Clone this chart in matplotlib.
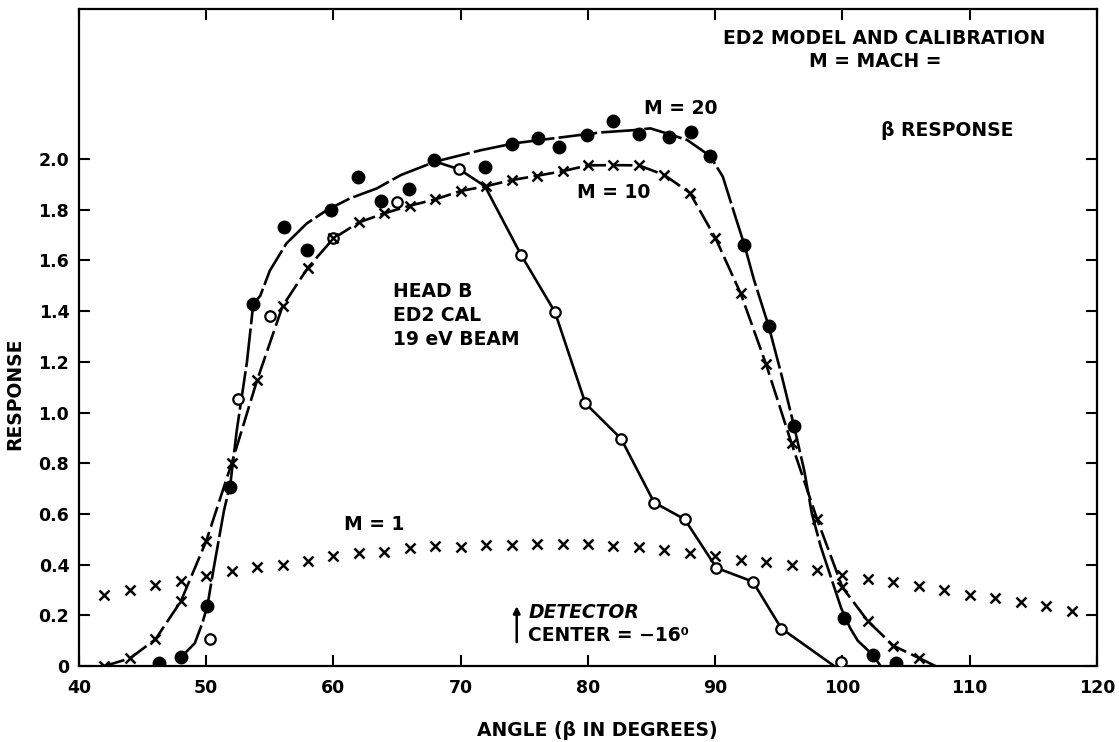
import matplotlib.pyplot as plt
import numpy as np

plt.rcParams["font.family"] = ["DejaVu Sans"]
plt.rcParams["font.weight"] = "bold"
plt.rcParams["axes.labelweight"] = "bold"
plt.rcParams["lines.scale_dashes"] = False

# M = 1 response (crosses only)
m1_angle = np.arange(42, 119, 2)
m1_resp = [0.28, 0.30, 0.32, 0.335, 0.355, 0.375, 0.39, 0.40, 0.415, 0.435,
           0.447, 0.45, 0.465, 0.473, 0.47, 0.477, 0.477, 0.48, 0.482, 0.48,
           0.474, 0.47, 0.457, 0.447, 0.434, 0.42, 0.41, 0.40, 0.38, 0.36,
           0.345, 0.333, 0.314, 0.30, 0.28, 0.268, 0.253, 0.236, 0.217]

# M = 10 response (crosses joined by a dashed line)
m10_angle = np.arange(42, 107, 2)
m10_resp = [0.0, 0.03, 0.105, 0.255, 0.493, 0.80, 1.128, 1.42, 1.572, 1.687,
            1.75, 1.786, 1.816, 1.841, 1.874, 1.893, 1.917, 1.934, 1.952, 1.975,
            1.976, 1.975, 1.937, 1.867, 1.69, 1.47, 1.19, 0.878, 0.58, 0.31,
            0.177, 0.08, 0.032]
m10_tail_angle = [106, 107.3]
m10_tail_resp = [0.032, 0.0]

# M = 20 measured points (filled dots)
m20_angle = [46.3, 48.0, 50.05, 51.9, 53.7, 56.1, 57.9, 59.8, 61.9, 63.7,
             65.9, 67.9, 71.9, 74.0, 76.1, 77.7, 79.9, 82.0, 84.0, 86.4,
             88.1, 89.6, 92.3, 94.2, 96.2, 100.1, 102.4, 104.2]
m20_resp = [0.01, 0.034, 0.237, 0.705, 1.428, 1.733, 1.641, 1.799, 1.928, 1.834,
            1.882, 1.996, 1.970, 2.059, 2.082, 2.049, 2.096, 2.15, 2.097, 2.088,
            2.108, 2.012, 1.66, 1.341, 0.945, 0.19, 0.045, 0.012]

# M = 20 faired curve
m20_fit_angle = [48.0, 49.1, 49.7, 50.1, 50.6, 51.4, 51.9, 52.4, 53.2, 53.7,
                 54.24, 55.0, 56.3, 57.9, 59.5, 61.3, 63.4, 65.3, 68.0, 71.6,
                 74.2, 77.0, 79.4, 81.0, 83.6, 84.9, 86.2, 87.8, 89.6, 90.6,
                 91.5, 92.3, 93.05, 94.2, 95.2, 96.2, 97.0, 97.6, 98.3, 99.9,
                 100.6, 101.2, 102.4, 103.0]
m20_fit_resp = [0.034, 0.09, 0.17, 0.24, 0.39, 0.615, 0.72, 0.93, 1.20, 1.43,
                1.46, 1.56, 1.667, 1.746, 1.799, 1.845, 1.884, 1.937, 1.99, 2.035,
                2.062, 2.08, 2.095, 2.105, 2.114, 2.121, 2.101, 2.075, 2.012, 1.93,
                1.786, 1.66, 1.523, 1.341, 1.15, 0.945, 0.77, 0.60, 0.47, 0.228,
                0.15, 0.10, 0.043, 0.0]

# open circles and the line drawn through the falling branch
open_angle = [50.3, 52.5, 55.0, 60.0, 65.0, 69.9, 74.75, 77.4, 79.8, 82.6,
              85.2, 87.6, 90.1, 92.95, 95.2, 99.9]
open_resp = [0.105, 1.053, 1.381, 1.687, 1.829, 1.959, 1.621, 1.397, 1.036, 0.897,
             0.645, 0.579, 0.387, 0.333, 0.148, 0.014]
open_line_angle = [68.0, 69.9, 71.9, 74.75, 77.4, 79.8, 82.6, 85.2, 87.6, 90.1,
                   92.95, 95.2, 99.35]
open_line_resp = [1.99, 1.959, 1.893, 1.621, 1.397, 1.036, 0.897, 0.645, 0.579, 0.387,
                  0.333, 0.148, 0.0]

x_ticks = [40, 50, 60, 70, 80, 90, 100, 110, 120]
y_ticks = [0, 0.2, 0.4, 0.6, 0.8, 1.0, 1.2, 1.4, 1.6, 1.8, 2.0]
y_tick_labels = ["0", "0.2", "0.4", "0.6", "0.8", "1.0", "1.2", "1.4", "1.6", "1.8", "2.0"]

fig = plt.figure(figsize=(11.19, 7.42), dpi=100)
ax = fig.add_axes([0.0706, 0.1024, 0.9097, 0.8855])

lw = 1.9
ax.plot(m20_fit_angle, m20_fit_resp, color="black", lw=lw, ls=(0, (28, 3)), zorder=2)
ax.plot(m10_angle, m10_resp, color="black", lw=lw, ls=(0, (15, 4)), zorder=2)
ax.plot(m10_tail_angle, m10_tail_resp, color="black", lw=lw, ls=(0, (15, 4)), zorder=2)
ax.plot(open_line_angle, open_line_resp, color="black", lw=lw, zorder=2)

ax.plot(m20_angle, m20_resp, "o", color="black", ms=9, zorder=4)
ax.plot(open_angle, open_resp, "o", mfc="white", mec="black", mew=1.6, ms=7.5, zorder=4)
ax.plot(m10_angle, m10_resp, "x", color="black", ms=6.5, mew=1.8, zorder=4)
ax.plot(m1_angle, m1_resp, "x", color="black", ms=6.5, mew=1.8, zorder=4)

fs = 13.5
ax.text(103.25, 2.476, "ED2 MODEL AND CALIBRATION", ha="center", va="center", fontsize=fs)
ax.text(102.6, 2.384, "M = MACH =", ha="center", va="center", fontsize=fs)
ax.text(108.26, 2.114, "β RESPONSE", ha="center", va="center", fontsize=fs)
ax.text(87.3, 2.20, "M = 20", ha="center", va="center", fontsize=fs)
ax.text(82.0, 1.867, "M = 10", ha="center", va="center", fontsize=fs)
ax.text(63.2, 0.56, "M = 1", ha="center", va="center", fontsize=fs)
ax.text(64.7, 1.476, "HEAD B", ha="left", va="center", fontsize=fs)
ax.text(64.7, 1.382, "ED2 CAL", ha="left", va="center", fontsize=fs)
ax.text(64.7, 1.29, "19 eV BEAM", ha="left", va="center", fontsize=fs)
ax.text(75.3, 0.212, "DETECTOR", ha="left", va="center", fontsize=fs, style="italic")
ax.text(75.3, 0.122, "CENTER = −16⁰", ha="left", va="center", fontsize=fs)
ax.annotate("", xy=(74.4, 0.236), xytext=(74.4, 0.094),
            arrowprops=dict(arrowstyle="-|>", color="black", lw=1.8,
                            mutation_scale=10, shrinkA=0, shrinkB=0))

ax.set_xlim(40, 120)
ax.set_ylim(0, 2.592)
ax.set_xticks(x_ticks)
ax.set_yticks(y_ticks)
ax.set_yticklabels(y_tick_labels)
ax.tick_params(direction="in", length=8, width=1.5, top=True, right=True,
               labelsize=12.5, pad=7)
ax.tick_params(axis="x", pad=9)
for spine in ax.spines.values():
    spine.set_linewidth(1.6)

ax.set_ylabel("RESPONSE", fontsize=fs)
ax.yaxis.set_label_coords(-0.054, 0.414)
ax.set_xlabel("ANGLE (β IN DEGREES)", fontsize=fs)
ax.xaxis.set_label_coords(0.509, -0.083)

fig.savefig("out.png", dpi=100)
plt.close(fig)
